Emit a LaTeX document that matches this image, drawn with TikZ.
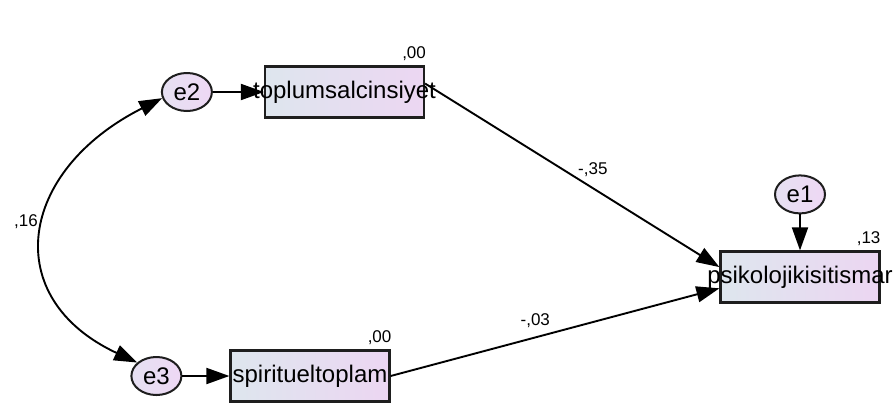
\documentclass[tikz,border=0pt]{standalone}
\usepackage{fontspec}
\setmainfont{Liberation Sans}
\usepackage{xcolor}
\usepackage{tikz}
\usetikzlibrary{arrows.meta, shapes.geometric, positioning, calc}
\definecolor{boxleft}{RGB}{222,230,238}
\definecolor{boxright}{RGB}{236,214,242}
\definecolor{errleft}{RGB}{230,224,242}
\definecolor{errright}{RGB}{238,216,244}
\definecolor{edgegray}{RGB}{30,30,30}
\tikzset{
  observed/.style={
      draw=edgegray,
      left color=boxleft,
      right color=boxright,
      rectangle,
      line width=2.2pt,
      minimum width=159pt,
      minimum height=51pt,
      inner sep=0pt,
      font=\fontsize{24}{27}\selectfont
  },
  error/.style={
      draw=edgegray,
      left color=errleft,
      right color=errright,
      ellipse,
      line width=2pt,
      minimum width=50pt,
      minimum height=38pt,
      inner sep=0pt,
      font=\fontsize{24}{27}\selectfont
  },
  estimate/.style={
      inner sep=1pt,
      font=\fontsize{17}{19}\selectfont
  },
  arrow/.style={-{Triangle[length=23pt, width=16pt]}, line width=1.9pt},
  twoway/.style={{Triangle[length=23pt, width=16pt]}-{Triangle[length=23pt, width=16pt]}, line width=1.9pt}
}

\begin{document}
\begin{tikzpicture}[x=1pt, y=-1pt]
      \useasboundingbox (0,0) rectangle (894,408);
      % Basic boxes
      \node (toplum) [observed] at (344.5,92) {\makebox[0pt]{toplumsalcinsiyet}};
      \node (spirit) [observed] at (310,376) {\makebox[0pt]{spiritueltoplam}};
      \node (psiko) [observed] at (800,277) {\makebox[0pt]{psikolojikisitismar}};
      \node (e2) [error, left=51pt of toplum] {e2};
      \node (e3) [error, left=47pt of spirit] {e3};
      \node (e1) [error, above=36pt of psiko] {e1};

      % Estimates
      \node (r2toplum) [estimate, above left=4pt and -2pt of toplum.north east] {,00};
      \node (r2spirit) [estimate, above left=4pt and -2pt of spirit.north east] {,00};
      \node (r2psiko) [estimate, above left=4pt and -1pt of psiko.north east] {,13};
      \node (cov23) [estimate] at (26,222) {,16};

      % Connections
      \draw[arrow] (e2) -- (toplum);
      \draw[arrow] (e3) -- (spirit);
      \draw[arrow] (e1) -- (psiko);
      \draw[arrow] (toplum.6) -- node[estimate, pos=0.57, above=10pt] {-,35} (psiko.173);
      \draw[arrow] (spirit.east) -- node[estimate, pos=0.44, above=7.5pt] {-,03} (psiko.188);
      \draw[twoway] (e2.194) .. controls (18,171) and (-1,298) .. (e3.145);
    \end{tikzpicture}
\end{document}
